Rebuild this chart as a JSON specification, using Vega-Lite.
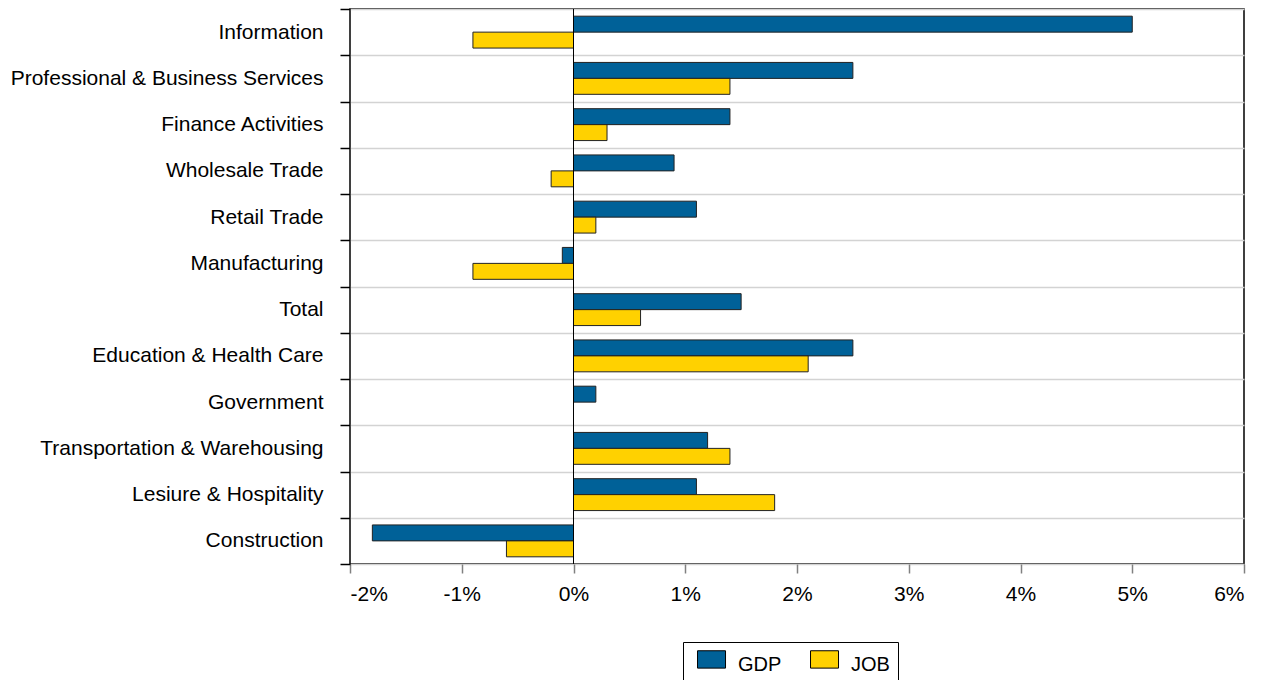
{
  "$schema": "https://vega.github.io/schema/vega-lite/v6.json",
  "width": 894,
  "height": 555,
  "autosize": {"type": "none"},
  "padding": {"left": 350, "top": 9, "right": 21, "bottom": 116},
  "config": {
    "font": "Liberation Sans",
    "view": {"stroke": "#000000", "strokeWidth": 1.5},
    "axis": {"labelFont": "Liberation Sans", "labelFontSize": 21, "labelColor": "#000000", "labelLimit": 0}
  },
  "data": {
    "values": [
      {"sector": "Information", "series": "GDP", "value": 5.0},
      {"sector": "Information", "series": "JOB", "value": -0.9},
      {"sector": "Professional & Business Services", "series": "GDP", "value": 2.5},
      {"sector": "Professional & Business Services", "series": "JOB", "value": 1.4},
      {"sector": "Finance Activities", "series": "GDP", "value": 1.4},
      {"sector": "Finance Activities", "series": "JOB", "value": 0.3},
      {"sector": "Wholesale Trade", "series": "GDP", "value": 0.9},
      {"sector": "Wholesale Trade", "series": "JOB", "value": -0.2},
      {"sector": "Retail Trade", "series": "GDP", "value": 1.1},
      {"sector": "Retail Trade", "series": "JOB", "value": 0.2},
      {"sector": "Manufacturing", "series": "GDP", "value": -0.1},
      {"sector": "Manufacturing", "series": "JOB", "value": -0.9},
      {"sector": "Total", "series": "GDP", "value": 1.5},
      {"sector": "Total", "series": "JOB", "value": 0.6},
      {"sector": "Education & Health Care", "series": "GDP", "value": 2.5},
      {"sector": "Education & Health Care", "series": "JOB", "value": 2.1},
      {"sector": "Government", "series": "GDP", "value": 0.2},
      {"sector": "Government", "series": "JOB", "value": 0.0},
      {"sector": "Transportation & Warehousing", "series": "GDP", "value": 1.2},
      {"sector": "Transportation & Warehousing", "series": "JOB", "value": 1.4},
      {"sector": "Lesiure & Hospitality", "series": "GDP", "value": 1.1},
      {"sector": "Lesiure & Hospitality", "series": "JOB", "value": 1.8},
      {"sector": "Construction", "series": "GDP", "value": -1.8},
      {"sector": "Construction", "series": "JOB", "value": -0.6}
    ]
  },
  "layer": [
    {
      "mark": {"type": "bar", "stroke": "#222222", "strokeWidth": 1},
      "encoding": {
        "y": {
          "field": "sector",
          "type": "nominal",
          "sort": null,
          "title": null,
          "scale": {"paddingInner": 0, "paddingOuter": 0},
          "axis": {
            "tickBand": "extent",
            "grid": true,
            "gridColor": "#d3d3d3",
            "gridWidth": 1.5,
            "domain": false,
            "tickColor": "#000000",
            "tickSize": 10,
            "tickWidth": 1.5,
            "labelPadding": 17
          }
        },
        "yOffset": {
          "field": "series",
          "type": "nominal",
          "scale": {"paddingInner": 0, "paddingOuter": 0.45}
        },
        "x": {
          "field": "value",
          "type": "quantitative",
          "title": null,
          "scale": {"domain": [-2, 6], "nice": false},
          "axis": {
            "values": [-2, -1, 0, 1, 2, 3, 4, 5, 6],
            "labelExpr": "datum.value + '%'",
            "grid": false,
            "domain": false,
            "tickColor": "#808080",
            "tickSize": 9,
            "tickWidth": 1.5,
            "labelPadding": 10
          }
        },
        "color": {
          "field": "series",
          "type": "nominal",
          "scale": {"domain": ["GDP", "JOB"], "range": ["#006198", "#FFD100"]},
          "legend": {
            "title": null,
            "orient": "none",
            "legendX": 333,
            "legendY": 633,
            "direction": "horizontal",
            "strokeColor": "#000000",
            "padding": 8,
            "symbolType": "M-0.57,-1H1.43V0.24H-0.57Z",
            "symbolSize": 784,
            "symbolStrokeColor": "#000000",
            "symbolStrokeWidth": 1,
            "symbolOpacity": 1,
            "labelFontSize": 20,
            "labelFont": "Liberation Sans",
            "labelColor": "#000000",
            "columnPadding": 22,
            "labelOffset": 18
          }
        }
      }
    },
    {
      "mark": {"type": "rule", "color": "#000000", "strokeWidth": 1},
      "encoding": {"x": {"datum": 0}}
    }
  ]
}
